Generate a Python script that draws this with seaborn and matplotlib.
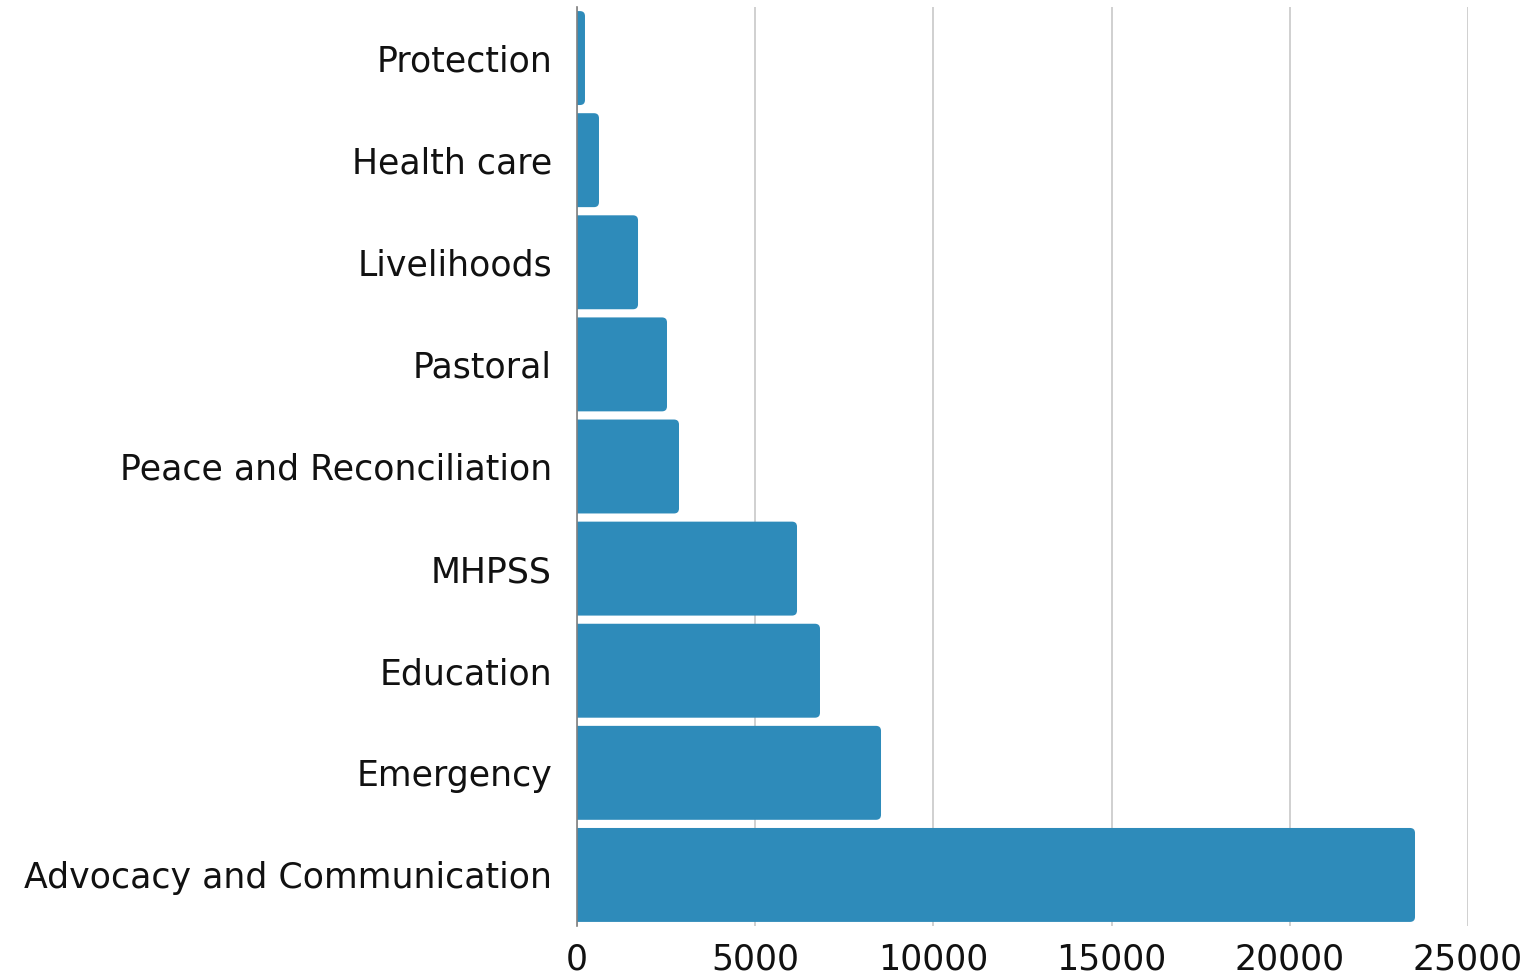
import matplotlib
matplotlib.use("Agg")
import matplotlib.pyplot as plt
import seaborn as sns
import pandas as pd
from matplotlib.patches import FancyBboxPatch

categories = ["Protection", "Health care", "Livelihoods", "Pastoral",
              "Peace and Reconciliation", "MHPSS", "Education", "Emergency",
              "Advocacy and Communication"]
values = [224, 617, 1712, 2525, 2862, 6173, 6818, 8530, 23513]
xticks = [0, 5000, 10000, 15000, 20000, 25000]

df = pd.DataFrame({"category": categories, "value": values})

sns.set_style("white")
plt.rcParams['font.family'] = ['DejaVu Sans']

fig = plt.figure(figsize=(15.37, 9.76), dpi=100)
ax = fig.add_axes([577 / 1537, 50 / 976, 891 / 1537, 919 / 976])

sns.barplot(data=df, x="value", y="category", color="#2E8BBA",
            saturation=1, width=0.92, ax=ax, zorder=2)
ax.set_xlim(0, 25000)
ax.set_ylim(len(categories) - 0.5, -0.5)

# swap the plain bars for ones with rounded ends
xpp = 25000 / 891
ypp = len(categories) / 919
for p in list(ax.patches):
    x0, y0, w, h = p.get_x(), p.get_y(), p.get_width(), p.get_height()
    p.remove()
    ax.add_patch(FancyBboxPatch((x0 - 400, y0), w + 400, h,
                                boxstyle="round,pad=0,rounding_size=%f" % (5 * xpp),
                                mutation_aspect=ypp / xpp,
                                fc="#2E8BBA", ec="none", zorder=2))

ax.set_xticks(xticks)
ax.set_xticklabels([str(t) for t in xticks])
ax.grid(axis="x", color="#C8C8C8", linewidth=1.2, zorder=0)
for s in ["top", "right", "bottom"]:
    ax.spines[s].set_visible(False)
ax.spines["left"].set_color("#808080")
ax.spines["left"].set_linewidth(1.2)
ax.set_xlabel("")
ax.set_ylabel("")
ax.tick_params(axis="both", length=0, labelsize=25, colors="#111111")
ax.tick_params(axis="y", pad=18)
ax.tick_params(axis="x", pad=12)

fig.savefig("out.png", dpi=100)
